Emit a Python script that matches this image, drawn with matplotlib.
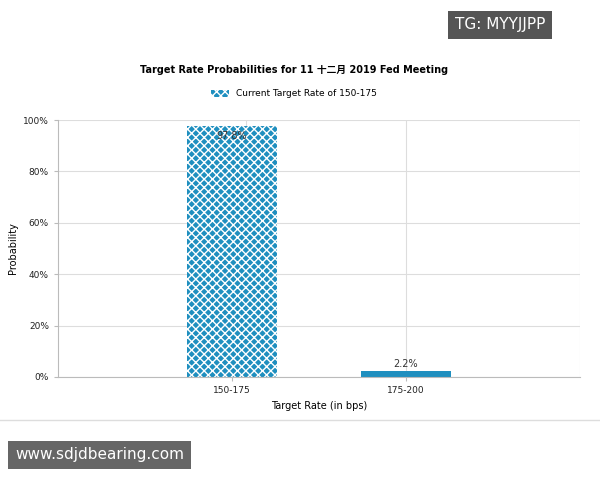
import matplotlib.pyplot as plt

plt.rcParams['font.family'] = ['DejaVu Sans', 'Noto Sans CJK SC']

categories = ['150-175', '175-200']
probabilities = [97.8, 2.2]
labels = ['97.8%', '2.2%']

fig = plt.figure(figsize=(6, 4.8), dpi=100)
ax = fig.add_axes([58 / 600, 1 - 377 / 480, 522 / 600, 257 / 480])

x = [1, 2]
ax.bar(x[0], probabilities[0], width=0.52, color='#1f8fbf', hatch='xxxx',
       edgecolor='white', linewidth=0, label='Current Target Rate of 150-175')
ax.bar(x[1], probabilities[1], width=0.52, color='#1f8fbf', linewidth=0)
for xi, p, lab in zip(x, probabilities, labels):
    offset = -6 if p > 90 else 1
    ax.text(xi, p + offset, lab, ha='center', va='bottom', fontsize=7, color='#333333')

ax.set_xlim(0, 3)
ax.set_ylim(0, 100)
ax.set_xticks(x)
ax.set_xticklabels(categories, fontsize=6.5)
ax.set_yticks(range(0, 101, 20))
ax.set_yticklabels([f'{v}%' for v in range(0, 101, 20)], fontsize=6.5)
ax.grid(axis='y', color='#dddddd', linewidth=0.8)
for gx in [1.08, 2.0, 3.0]:
    ax.axvline(gx, color='#dddddd', linewidth=0.8, zorder=0)
ax.set_axisbelow(True)
for side in ['top', 'right']:
    ax.spines[side].set_visible(False)
ax.spines['left'].set_color('#bbbbbb')
ax.spines['bottom'].set_color('#bbbbbb')
ax.tick_params(length=3, colors='#bbbbbb', labelcolor='#222222')
ax.set_xlabel('Target Rate (in bps)', fontsize=7)
ax.set_ylabel('Probability', fontsize=7)

fig.text(0.49, 1 - 70 / 480, 'Target Rate Probabilities for 11 十二月 2019 Fed Meeting',
         ha='center', va='center', fontsize=7, fontweight='bold')
fig.legend(loc='center', bbox_to_anchor=(0.49, 1 - 94 / 480), frameon=False,
           fontsize=6.5, handlelength=2, handleheight=0.9)

fig.add_artist(plt.Line2D([0, 1], [1 - 420 / 480] * 2, color='#dddddd', linewidth=1))
fig.text(455 / 600, 1 - 25 / 480, 'TG: MYYJJPP', fontsize=11, color='white', va='center',
         bbox=dict(facecolor='#555555', edgecolor='none', pad=5))
fig.text(15 / 600, 1 - 455 / 480, 'www.sdjdbearing.com', fontsize=11, color='white', va='center',
         bbox=dict(facecolor='#666666', edgecolor='none', pad=5))

fig.savefig('out.png')
